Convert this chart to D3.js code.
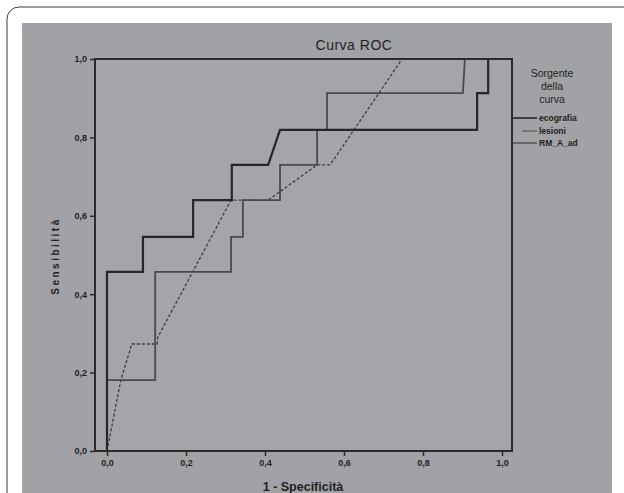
<!DOCTYPE html>
<html>
<head>
<meta charset="utf-8">
<script src="https://cdn.jsdelivr.net/npm/d3@7"></script>
<style>
  body { margin: 0; background: #fff; }
  svg { display: block; font-family: "Liberation Sans", Arial, sans-serif; }
</style>
</head>
<body>
<svg></svg>
<script>
// values (1 - specificity, sensitivity)
const tickValues = [0, 0.2, 0.4, 0.6, 0.8, 1.0];
const seriesNames = ["ecografia", "lesioni", "RM_A_ad"];

const ecoFpr = [0, 0, 0.091, 0.091, 0.218, 0.218, 0.316, 0.316, 0.408, 0.438, 0.937, 0.937, 0.965, 0.965, 1];
const ecoTpr = [0, 0.457, 0.457, 0.546, 0.546, 0.640, 0.640, 0.730, 0.730, 0.819, 0.819, 0.913, 0.913, 1, 1];

const lesFpr = [0, 0, 0.122, 0.122, 0.314, 0.314, 0.344, 0.344, 0.438, 0.438, 0.532, 0.532, 0.557, 0.557, 0.901, 0.906, 1];
const lesTpr = [0, 0.181, 0.181, 0.457, 0.457, 0.546, 0.546, 0.640, 0.640, 0.730, 0.730, 0.819, 0.819, 0.913, 0.913, 1, 1];

const rmFpr = [0, 0.035, 0.063, 0.127, 0.129, 0.314, 0.408, 0.532, 0.565, 0.747, 1];
const rmTpr = [0, 0.181, 0.273, 0.273, 0.291, 0.640, 0.640, 0.730, 0.730, 1, 1];

const width = 624;
const height = 493;

const svg = d3.select('svg')
  .attr('width', width)
  .attr('height', height);

const frame = { left: 95, right: 512, top: 59, bottom: 451 };

const x = d3.scaleLinear().domain([0, 1]).range([107, 502]);
const y = d3.scaleLinear().domain([0, 1]).range([frame.bottom, frame.top]);

const fmt = d => d3.format(".1f")(d).replace(".", ",");

// outer card + grey panel
svg.append('rect')
  .attr('x', 7).attr('y', 7)
  .attr('width', 640).attr('height', 520)
  .attr('rx', 12)
  .attr('fill', '#fff')
  .attr('stroke', '#3a3a3a')
  .attr('stroke-width', 1);

svg.append('rect')
  .attr('x', 22).attr('y', 23)
  .attr('width', 590).attr('height', 480)
  .attr('fill', '#a0a2a6');

svg.append('rect')
  .attr('x', frame.left).attr('y', frame.top)
  .attr('width', frame.right - frame.left)
  .attr('height', frame.bottom - frame.top)
  .attr('fill', '#a3a5a9');

function toPoints(xs, ys) {
  return xs.map((v, i) => [v, ys[i]]);
}

const line = d3.line()
  .x(p => x(p[0]))
  .y(p => y(p[1]));

const series = [
  { name: seriesNames[2], pts: toPoints(rmFpr, rmTpr), color: '#3c3c3c', w: 1.3, dash: '3,2' },
  { name: seriesNames[1], pts: toPoints(lesFpr, lesTpr), color: '#4a4a4a', w: 1.8, dash: null },
  { name: seriesNames[0], pts: toPoints(ecoFpr, ecoTpr), color: '#262626', w: 2.2, dash: null }
];

svg.append('g')
  .selectAll('path')
  .data(series)
  .enter().append('path')
    .attr('d', s => line(s.pts))
    .attr('fill', 'none')
    .attr('stroke', s => s.color)
    .attr('stroke-width', s => s.w)
    .attr('stroke-dasharray', s => s.dash);

// frame on top
svg.append('rect')
  .attr('x', frame.left).attr('y', frame.top)
  .attr('width', frame.right - frame.left)
  .attr('height', frame.bottom - frame.top)
  .attr('fill', 'none')
  .attr('stroke', '#2b2b2b')
  .attr('stroke-width', 2);

const xAxis = svg.append('g')
  .attr('transform', `translate(0,${frame.bottom})`)
  .call(d3.axisBottom(x).tickValues(tickValues).tickFormat(fmt).tickSize(5).tickPadding(4));

const yAxis = svg.append('g')
  .attr('transform', `translate(${frame.left},0)`)
  .call(d3.axisLeft(y).tickValues(tickValues).tickFormat(fmt).tickSize(5).tickPadding(3));

[xAxis, yAxis].forEach(ax => {
  ax.select('.domain').remove();
  ax.selectAll('line').attr('stroke', '#2b2b2b').attr('stroke-width', 1.5);
  ax.selectAll('text')
    .attr('fill', '#222')
    .style('font-size', '9px')
    .style('font-weight', 'bold');
});

// titles
svg.append('text')
  .attr('x', 354).attr('y', 50)
  .attr('text-anchor', 'middle')
  .attr('fill', '#222')
  .style('font-size', '14px')
  .style('letter-spacing', '0.5px')
  .text('Curva ROC');

svg.append('text')
  .attr('x', 303).attr('y', 491)
  .attr('text-anchor', 'middle')
  .attr('fill', '#222')
  .style('font-size', '12.5px')
  .style('font-weight', 'bold')
  .text('1 - Specificità');

svg.append('text')
  .attr('transform', 'translate(59,256) rotate(-90)')
  .attr('text-anchor', 'middle')
  .attr('fill', '#222')
  .style('font-size', '10px')
  .style('font-weight', 'bold')
  .style('letter-spacing', '2.5px')
  .text('Sensibilità');

// legend
const legendTitle = ['Sorgente', 'della', 'curva'];
svg.append('g')
  .selectAll('text')
  .data(legendTitle)
  .enter().append('text')
    .attr('x', 552)
    .attr('y', (d, i) => 77 + i * 13)
    .attr('text-anchor', 'middle')
    .attr('fill', '#222')
    .style('font-size', '10.5px')
    .text(d => d);

const legendItems = [
  { name: seriesNames[0], color: '#262626', w: 1.6, y: 118, x0: 513 },
  { name: seriesNames[1], color: '#5a5a5a', w: 1.2, y: 131, x0: 522 },
  { name: seriesNames[2], color: '#3c3c3c', w: 1.2, y: 143, x0: 513 }
];

const leg = svg.append('g')
  .selectAll('g')
  .data(legendItems)
  .enter().append('g');

leg.append('line')
  .attr('x1', d => d.x0).attr('x2', 537)
  .attr('y1', d => d.y).attr('y2', d => d.y)
  .attr('stroke', d => d.color)
  .attr('stroke-width', d => d.w);

leg.append('text')
  .attr('x', 539)
  .attr('y', d => d.y + 3)
  .attr('fill', '#222')
  .style('font-size', '8.5px')
  .style('font-weight', 'bold')
  .text(d => d.name);
</script>
</body>
</html>
